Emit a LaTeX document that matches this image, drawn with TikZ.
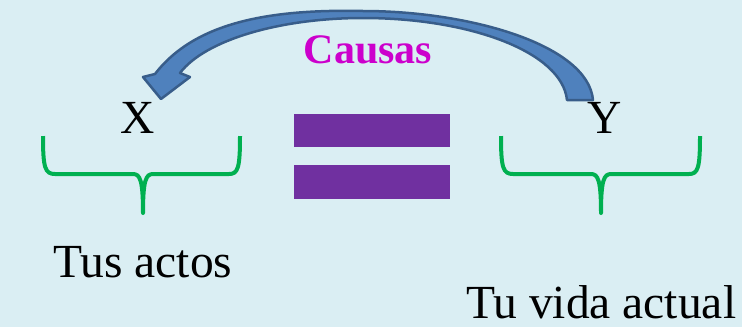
\documentclass[tikz,border=0pt]{standalone}
\usepackage{fontspec}
\setmainfont{Liberation Serif}
\definecolor{bgc}{HTML}{DAEEF3}
\definecolor{arrfill}{HTML}{4F81BD}
\definecolor{arrline}{HTML}{385D8A}
\definecolor{bracec}{HTML}{00B050}
\definecolor{barc}{HTML}{7030A0}
\definecolor{causc}{HTML}{CC00CC}
\tikzset{
  lbl/.style={inner sep=0pt, text depth=0pt, font=\fontsize{47.5}{50}\selectfont},
  caus/.style={inner sep=0pt, text=causc, font=\fontsize{42}{46}\selectfont\bfseries},
  bracestyle/.style={draw=bracec, line width=4pt, line join=round},
  barstyle/.style={fill=barc, draw=none},
  arrstyle/.style={fill=arrfill, draw=arrline, line width=2.5pt, line join=round}
}
\begin{document}
\begin{tikzpicture}[x=1pt,y=-1pt]
\fill[bgc] (0,0) rectangle (742,327);
\useasboundingbox (0,0) rectangle (742,327);
% curved arrow
\path[arrstyle] (593,100) .. controls (588,45) and (470,11) .. (363,11)
  .. controls (270,9) and (195,22) .. (155,74)
  -- (143,77) -- (161,99) -- (190,77) -- (180,73)
  .. controls (205,40) and (280,18) .. (363,18)
  .. controls (470,18) and (562,52) .. (567,100) -- cycle;
\node[caus, anchor=base] (causas) at (368,63) {Causas};
% letters
\node[lbl, anchor=base] (x) at (138,133) {X};
\node[lbl, anchor=base] (y) at (605,133) {Y};
% braces
\draw[bracestyle] (43,136) .. controls (43,168) and (45,174) .. (55,174) -- (133,174)
  .. controls (140,174) and (143,180) .. (143,213)
  .. controls (143,180) and (146,174) .. (153,174) -- (229,174)
  .. controls (238,174) and (240,168) .. (240,136);
\draw[bracestyle] (501,136) .. controls (501,168) and (503,174) .. (513,174) -- (591,174)
  .. controls (598,174) and (601,180) .. (601,213)
  .. controls (601,180) and (604,174) .. (611,174) -- (689,174)
  .. controls (698,174) and (700,168) .. (700,136);
% equals bars
\path[barstyle] (294,114) rectangle (450,147);
\path[barstyle] (294,165) rectangle (450,199);
% labels
\node[lbl, anchor=base west] (actos) at (53,277) {Tus actos};
\node[lbl, anchor=base west] (vida) at (466,318) {Tu vida actual};
\end{tikzpicture}
\end{document}
